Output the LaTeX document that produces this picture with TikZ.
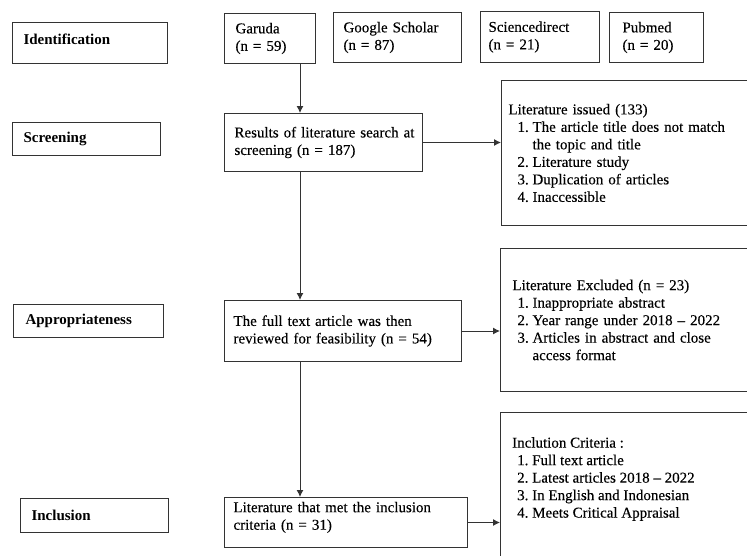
\documentclass[tikz,border=0pt]{standalone}
\usepackage{fontspec}
\setmainfont{Liberation Serif}[UprightFeatures={FakeBold=0.25}]
\usetikzlibrary{arrows.meta}
\newcommand\numitem[1]{\hspace*{9pt}\makebox[15pt][l]{#1}}
\newcommand\contline{\hspace*{24pt}}
\begin{document}
\begin{tikzpicture}[x=1pt,y=-1pt,
  box/.style={draw=black!80, line width=1pt, anchor=north west, inner ysep=0pt,
    align=left, font=\fontsize{15}{17.5}\selectfont},
  lbl/.style={box, font=\fontsize{15}{17.5}\selectfont\bfseries},
  txt/.style={inner sep=0pt, anchor=north west, align=left, font=\fontsize{15}{17.5}\selectfont},
  arr/.style={draw=black!80, line width=1pt, -{Latex[length=7pt,width=7pt]}}
]
\useasboundingbox (0,0) rectangle (747,555);
\clip (0,0) rectangle (747,555);
% stage labels
\node[lbl, minimum width=155pt, minimum height=41pt, inner xsep=11pt, text width=133pt, text depth=8pt] (ident) at (12,22) {Identification};
\node[lbl, minimum width=148pt, minimum height=33pt, inner xsep=11pt, text width=126pt] (screen) at (12,122) {Screening};
\node[lbl, minimum width=150pt, minimum height=33pt, inner xsep=12pt, text width=126pt] (approp) at (13,304) {Appropriateness};
\node[lbl, minimum width=148pt, minimum height=34pt, inner xsep=11pt, text width=126pt] (incl) at (20,498) {Inclusion};
% sources
\node[box, minimum width=91pt, minimum height=50pt, inner xsep=11pt, text width=69pt] (garuda) at (224,13) {Garuda\\(n = 59)};
\node[box, minimum width=128pt, minimum height=50pt, inner xsep=10pt, text width=108pt] (google) at (333,12) {Google Scholar\\(n = 87)};
\node[box, minimum width=119pt, minimum height=51pt, inner xsep=8pt, text width=103pt] (science) at (480,11) {Sciencedirect\\(n = 21)};
\node[box, minimum width=94pt, minimum height=50pt, inner xsep=13pt, text width=68pt] (pubmed) at (609,12) {Pubmed\\(n = 20)};
% main flow
\node[box, minimum width=198pt, minimum height=58pt, inner xsep=10pt, text width=178pt] (results) at (224,113) {\mbox{Results of literature search at}\\\mbox{screening (n = 187)}};
\node[box, minimum width=237pt, minimum height=61pt, inner xsep=9pt, text width=219pt] (fulltext) at (224,300) {The full text article was then\\reviewed for feasibility (n = 54)};
\node[box, minimum width=243pt, minimum height=50pt, inner xsep=9pt, text width=225pt, text depth=31pt] (met) at (224,497) {Literature that met the inclusion\\criteria (n = 31)};
% side boxes
\node[box, minimum width=269pt, minimum height=145pt, inner xsep=7pt, text width=255pt] (issued) at (501,80) {Literature issued (133)\\
\numitem{1.}The article title does not match\\
\contline the topic and title\\
\numitem{2.}Literature study\\
\numitem{3.}Duplication of articles\\
\numitem{4.}Inaccessible};
\node[box, minimum width=270pt, minimum height=143pt, inner xsep=8pt, text width=254pt] (excluded) at (500,248) {\hspace*{4pt}Literature Excluded (n = 23)\\
\numitem{1.}Inappropriate abstract\\
\numitem{2.}Year range under 2018 – 2022\\
\numitem{3.}Articles in abstract and close\\
\contline access format};
\node[box, minimum width=270pt, minimum height=190pt] (criteria) at (500,412) {};
\node[txt] (crittext) at (508,437) {\hspace*{4pt}Inclution Criteria :\\
\numitem{1.}Full text article\\
\numitem{2.}Latest articles 2018 – 2022\\
\numitem{3.}In English and Indonesian\\
\numitem{4.}Meets Critical Appraisal};
% connectors
\coordinate (spine) at (300,0);
\draw[arr] (garuda.south -| spine) -- (results.north -| spine);
\draw[arr] (results.south -| spine) -- (fulltext.north -| spine);
\draw[arr] (fulltext.south -| spine) -- (met.north -| spine);
\draw[arr] (results.east) -- (results.east -| issued.west);
\draw[arr] (fulltext.east) -- (fulltext.east -| excluded.west);
\draw[arr] (met.east) -- (met.east -| criteria.west);
\end{tikzpicture}
\end{document}
